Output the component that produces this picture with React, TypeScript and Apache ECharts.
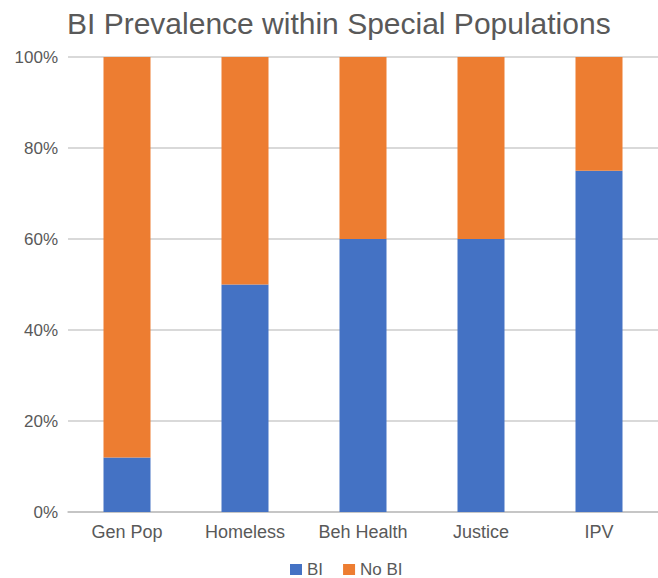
import React, { useEffect, useRef } from "react";
import * as echarts from "echarts";

const categories = ["Gen Pop", "Homeless", "Beh Health", "Justice", "IPV"];
const biValues = [12, 50, 60, 60, 75];
const noBiValues = [88, 50, 40, 40, 25];
const yTicks = { min: 0, max: 100, interval: 20 };

export default function App() {
  const ref = useRef<HTMLDivElement>(null);
  useEffect(() => {
    document.body.style.margin = "0";
    const chart = echarts.init(ref.current!, null, { renderer: "svg" });
    const font = "Liberation Sans, Arial, sans-serif";
    chart.setOption({
      animation: false,
      backgroundColor: "#ffffff",
      title: {
        text: "BI Prevalence within Special Populations",
        left: 67,
        top: 8,
        padding: 0,
        textStyle: { fontFamily: font, fontSize: 30, fontWeight: "normal", color: "#595959" },
      },
      legend: {
        top: 561,
        left: 290,
        padding: 0,
        itemWidth: 12,
        itemHeight: 11,
        itemGap: 20,
        icon: "rect",
        textStyle: { fontFamily: font, fontSize: 17, color: "#595959", lineHeight: 17 },
        data: ["BI", "No BI"],
      },
      grid: { left: 68, top: 57, width: 597, height: 455, containLabel: false },
      xAxis: {
        type: "category",
        data: categories,
        axisTick: { show: false },
        axisLine: { lineStyle: { color: "#bfbfbf", width: 1.5 } },
        axisLabel: { fontFamily: font, fontSize: 18, color: "#595959", margin: 11 },
      },
      yAxis: {
        type: "value",
        min: yTicks.min,
        max: yTicks.max,
        interval: yTicks.interval,
        axisLine: { show: false },
        axisTick: { show: false },
        splitLine: { lineStyle: { color: "#cccccc", width: 1.5 } },
        axisLabel: { fontFamily: font, fontSize: 17, color: "#595959", margin: 10, formatter: "{value}%" },
      },
      series: [
        {
          name: "BI",
          type: "bar",
          stack: "total",
          barWidth: 47,
          itemStyle: { color: "#4472C4" },
          data: biValues,
        },
        {
          name: "No BI",
          type: "bar",
          stack: "total",
          barWidth: 47,
          itemStyle: { color: "#ED7D31" },
          data: noBiValues,
        },
      ],
    });
    return () => chart.dispose();
  }, []);
  return <div ref={ref} style={{ width: 658, height: 578 }} />;
}
